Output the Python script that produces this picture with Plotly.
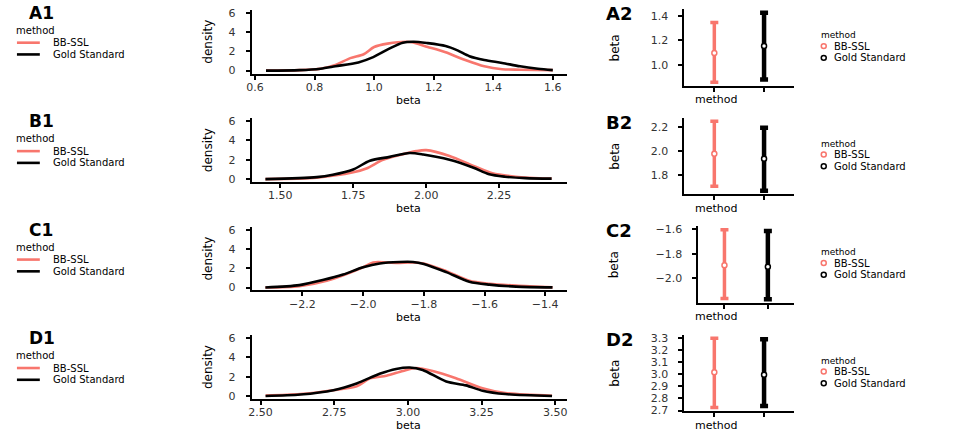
import plotly.graph_objects as go

W, H = 969, 443
RED = "#F8766D"
FONT = "DejaVu Sans"
TXT = "#333333"

methods = ["BB-SSL", "Gold Standard"]
method_colors = [RED, "black"]
panel_letters = ["A", "B", "C", "D"]

# density curves (beta, density)
a_bb_x = [0.637, 0.75, 0.82, 0.87, 0.92, 0.965, 1.0, 1.045, 1.12, 1.18, 1.24, 1.306, 1.37, 1.43, 1.49, 1.6]
a_bb_y = [0.0, 0.05, 0.2, 0.6, 1.3, 1.7, 2.45, 2.8, 2.97, 2.45, 1.9, 1.1, 0.45, 0.15, 0.1, 0.05]
a_gs_x = [0.637, 0.75, 0.82, 0.87, 0.947, 0.997, 1.046, 1.096, 1.133, 1.18, 1.24, 1.28, 1.32, 1.37, 1.43, 1.49, 1.55, 1.6]
a_gs_y = [0.0, 0.05, 0.2, 0.45, 0.85, 1.4, 2.2, 2.9, 3.0, 2.85, 2.55, 2.1, 1.5, 1.1, 0.8, 0.45, 0.2, 0.05]

b_bb_x = [1.449, 1.625, 1.75, 1.795, 1.852, 1.909, 1.966, 2.0, 2.08, 2.16, 2.227, 2.307, 2.43]
b_bb_y = [0.0, 0.15, 0.7, 1.1, 2.0, 2.5, 2.9, 3.0, 2.4, 1.4, 0.6, 0.25, 0.05]
b_gs_x = [1.449, 1.625, 1.68, 1.75, 1.807, 1.875, 1.943, 1.99, 2.08, 2.16, 2.216, 2.27, 2.34, 2.43]
b_gs_y = [0.0, 0.2, 0.45, 1.0, 1.9, 2.3, 2.7, 2.55, 2.0, 1.2, 0.5, 0.25, 0.1, 0.05]

c_bb_x = [-2.322, -2.21, -2.12, -2.0, -1.967, -1.89, -1.836, -1.80, -1.726, -1.65, -1.584, -1.496, -1.376]
c_bb_y = [0.0, 0.15, 0.7, 2.1, 2.6, 2.55, 2.6, 2.5, 1.7, 0.7, 0.4, 0.2, 0.02]
c_gs_x = [-2.322, -2.21, -2.13, -2.066, -2.0, -1.945, -1.88, -1.836, -1.80, -1.726, -1.65, -1.584, -1.496, -1.376]
c_gs_y = [0.0, 0.25, 0.8, 1.35, 2.1, 2.5, 2.65, 2.65, 2.45, 1.6, 0.6, 0.3, 0.1, 0.02]

d_bb_x = [2.517, 2.635, 2.747, 2.826, 2.87, 2.927, 2.983, 3.028, 3.084, 3.163, 3.253, 3.33, 3.489]
d_bb_y = [0.05, 0.2, 0.6, 1.0, 1.8, 2.1, 2.6, 2.9, 2.6, 1.85, 0.8, 0.3, 0.03]
d_gs_x = [2.517, 2.635, 2.747, 2.826, 2.904, 2.96, 3.006, 3.05, 3.13, 3.197, 3.253, 3.33, 3.489]
d_gs_y = [0.0, 0.15, 0.6, 1.3, 2.3, 2.8, 2.95, 2.7, 1.5, 1.1, 0.55, 0.2, 0.0]

# point ranges per method: [BB-SSL, Gold Standard]
a_mean, a_low, a_high = [1.096, 1.152], [0.856, 0.880], [1.344, 1.424]
b_mean, b_low, b_high = [1.978, 1.935], [1.705, 1.667], [2.249, 2.194]
c_mean, c_low, c_high = [-1.893, -1.906], [-2.165, -2.170], [-1.605, -1.615]
d_mean, d_low, d_high = [3.016, 2.995], [2.724, 2.738], [3.295, 3.287]

density = [
    [(a_bb_x, a_bb_y), (a_gs_x, a_gs_y)],
    [(b_bb_x, b_bb_y), (b_gs_x, b_gs_y)],
    [(c_bb_x, c_bb_y), (c_gs_x, c_gs_y)],
    [(d_bb_x, d_bb_y), (d_gs_x, d_gs_y)],
]
ranges = [
    (a_mean, a_low, a_high),
    (b_mean, b_low, b_high),
    (c_mean, c_low, c_high),
    (d_mean, d_low, d_high),
]

# axis settings per row
dens_xrange = [[0.589, 1.648], [1.402, 2.483], [-2.367, -1.328], [2.47, 3.54]]
dens_xticks = [[0.6, 0.8, 1.0, 1.2, 1.4, 1.6], [1.5, 1.75, 2.0, 2.25],
               [-2.2, -2.0, -1.8, -1.6, -1.4], [2.5, 2.75, 3.0, 3.25, 3.5]]
dens_xfmt = [".1f", ".2f", ".1f", ".2f"]
pr_yrange = [[0.828, 1.452], [1.638, 2.278], [-2.198, -1.577], [2.695, 3.324]]
pr_yticks = [[1.0, 1.2, 1.4], [1.8, 2.0, 2.2], [-2.0, -1.8, -1.6],
             [2.7, 2.8, 2.9, 3.0, 3.1, 3.2, 3.3]]
pr_left = [683, 683, 697, 683]

STEP = 110.7


def px(x):
    return x / W


def py(y):
    return 1 - y / H


fig = go.Figure()
axis_base = dict(showline=True, linecolor="black", linewidth=2, ticks="outside",
                 ticklen=4, tickwidth=1.5, tickcolor="black", showgrid=False,
                 zeroline=False, tickfont=dict(family=FONT, size=11, color=TXT))
layout = {}
annotations = []
shapes = []

for i in range(4):
    off = STEP * i
    n1, n2 = 2 * i + 1, 2 * i + 2
    xa1 = "x" if n1 == 1 else f"x{n1}"
    ya1 = "y" if n1 == 1 else f"y{n1}"
    xa2, ya2 = f"x{n2}", f"y{n2}"

    # density panel
    for (xs, ys), m, c in zip(density[i], methods, method_colors):
        fig.add_trace(go.Scatter(
            x=xs, y=ys, mode="lines", name=m, showlegend=False,
            line=dict(color=c, width=2.6, shape="spline", smoothing=0.8),
            xaxis=xa1, yaxis=ya1))

    # point range panel
    mean, low, high = ranges[i]
    for k, (m, c) in enumerate(zip(methods, method_colors)):
        fig.add_trace(go.Scatter(
            x=[m], y=[mean[k]], mode="markers", name=m, showlegend=False,
            marker=dict(symbol="circle", size=5, color="white", line=dict(color=c, width=1.5)),
            error_y=dict(type="data", symmetric=False, array=[high[k] - mean[k]],
                         arrayminus=[mean[k] - low[k]], color=c,
                         thickness=3.5 if k == 0 else 4.5, width=4),
            xaxis=xa2, yaxis=ya2))

    k1 = "xaxis" if n1 == 1 else f"xaxis{n1}"
    layout[k1] = dict(axis_base, domain=[px(248), px(565)], anchor=ya1,
                      range=dens_xrange[i], tickvals=dens_xticks[i],
                      tickformat=dens_xfmt[i], ticklabelstandoff=-2)
    layout["yaxis" if n1 == 1 else f"yaxis{n1}"] = dict(
        axis_base, domain=[py(72 + off), py(7 + off)], anchor=xa1,
        range=[-0.3, 6.3], tickvals=[0, 2, 4, 6], ticklabelstandoff=8)
    layout[f"xaxis{n2}"] = dict(
        axis_base, domain=[px(pr_left[i]), px(793)], anchor=ya2, type="category",
        categoryorder="array", categoryarray=methods, range=[-0.6, 1.6],
        showticklabels=False)
    layout[f"yaxis{n2}"] = dict(
        axis_base, domain=[py(84.5 + off), py(6.5 + off)], anchor=xa2,
        range=pr_yrange[i], tickvals=pr_yticks[i], tickformat=".1f",
        ticklabelstandoff=8)

    # axis titles
    annotations += [
        dict(text="density", x=px(195), y=py(39.5 + off), textangle=-90,
             font=dict(size=12)),
        dict(text="beta", x=px(406), y=py(99.5 + off), font=dict(size=11)),
        dict(text="beta", x=px(613), y=py(45.5 + off), textangle=-90,
             font=dict(size=12)),
        dict(text="method", x=px(738), y=py(99 + off), font=dict(size=11)),
    ]

    # panel labels
    letter = panel_letters[i]
    annotations += [
        dict(text=f"<b>{letter}1</b>", x=px(22), y=py(10 + off), xanchor="left",
             font=dict(size=17, color="black")),
        dict(text=f"<b>{letter}2</b>", x=px(602), y=py(11 + off), xanchor="left",
             font=dict(size=18, color="black")),
    ]

    # left legend (lines)
    annotations.append(dict(text="method", x=px(9), y=py(28 + off), xanchor="left",
                            font=dict(size=10)))
    for k, (m, c) in enumerate(zip(methods, method_colors)):
        yk = 40.5 + 12 * k + off
        shapes.append(dict(type="line", xref="paper", yref="paper",
                           x0=px(12), x1=px(35), y0=py(yk), y1=py(yk),
                           line=dict(color=c, width=2.6)))
        annotations.append(dict(text=m, x=px(46), y=py(yk), xanchor="left",
                                font=dict(size=10)))

    # right legend (points)
    annotations.append(dict(text="method", x=px(818), y=py(33 + off), xanchor="left",
                            font=dict(size=9)))
    for k, (m, c) in enumerate(zip(methods, method_colors)):
        yk = 44 + 12 * k + off
        shapes.append(dict(type="circle", xref="paper", yref="paper",
                           x0=px(820.5), x1=px(825.5), y0=py(yk + 2.5), y1=py(yk - 2.5),
                           line=dict(color=c, width=1.5), fillcolor="white"))
        annotations.append(dict(text=m, x=px(831), y=py(yk), xanchor="left",
                                font=dict(size=10)))

for a in annotations:
    a.setdefault("xref", "paper")
    a.setdefault("yref", "paper")
    a.setdefault("showarrow", False)
    a.setdefault("yanchor", "middle")
    a["font"] = dict(dict(family=FONT, color="black"), **a["font"])

fig.update_layout(
    width=W, height=H,
    margin=dict(l=0, r=0, t=0, b=0),
    paper_bgcolor="white", plot_bgcolor="white",
    font=dict(family=FONT, color="black"),
    showlegend=False,
    annotations=annotations,
    shapes=shapes,
    **layout,
)

# drop the default page margin so the figure sits at the window origin
fig.write_html("out.html", config={"displayModeBar": False},
               post_script="document.body.style.margin='0';")
